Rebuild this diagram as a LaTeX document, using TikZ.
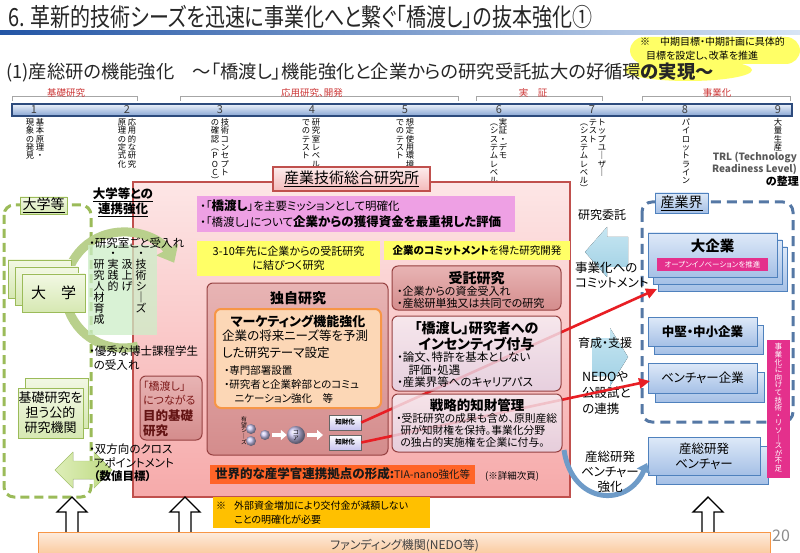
\documentclass[tikz,border=0pt]{standalone}
\usepackage{fontspec}
\setmainfont[RawFeature=+palt]{Noto Sans CJK JP}
\newfontfamily\condjp[FakeStretch=0.8,RawFeature=+palt]{Noto Sans CJK JP}
\usetikzlibrary{arrows.meta,calc}
\definecolor{pinkB}{RGB}{192,80,77}
\definecolor{pinkT}{RGB}{253,230,230}
\definecolor{pinkBot}{RGB}{246,170,170}
\definecolor{roseD}{RGB}{150,65,65}
\definecolor{roseT}{RGB}{232,180,180}
\definecolor{roseB}{RGB}{212,140,140}
\definecolor{lavT}{RGB}{246,238,244}
\definecolor{lavB}{RGB}{226,212,230}
\definecolor{greenD}{RGB}{155,187,89}
\definecolor{greenT}{RGB}{242,248,228}
\definecolor{greenB}{RGB}{214,232,178}
\definecolor{blueD}{RGB}{79,129,189}
\definecolor{blueT}{RGB}{222,233,248}
\definecolor{blueB}{RGB}{165,192,230}
\definecolor{dashB}{RGB}{85,120,165}
\definecolor{ltbA}{RGB}{198,230,242}
\definecolor{ltbB}{RGB}{160,208,228}
\definecolor{magL}{RGB}{238,160,228}
\definecolor{yel}{RGB}{255,255,102}
\definecolor{hotpink}{RGB}{228,48,140}
\definecolor{orgR}{RGB}{255,100,40}
\definecolor{amber}{RGB}{255,192,0}
\definecolor{orgD}{RGB}{247,150,70}
\definecolor{orgL}{RGB}{252,215,182}
\definecolor{redA}{RGB}{232,30,36}
\definecolor{maroon}{RGB}{125,25,25}
\definecolor{lbl}{RGB}{205,55,55}
\definecolor{navy}{RGB}{45,75,125}
\definecolor{seedc}{RGB}{200,195,238}
\makeatletter
\newcommand\vcol[1]{\vtop{\offinterlineskip\vcol@loop#1\relax}}
\def\vcol@loop#1{\ifx\relax#1\else\hbox to 1em{\vrule height .88em depth .12em width 0pt\hss#1\hss}\expandafter\vcol@loop\fi}
\makeatother
\newcommand\fs[2]{\fontsize{#1}{#2}\selectfont}
\begin{document}
\begin{tikzpicture}[x=1pt,y=-1pt,
  every node/.style={inner sep=0pt},
  vt/.style={anchor=north, font={\fs{8.3}{9}}},
  vtl/.style={anchor=north, font={\fs{11}{12}}},
  brk/.style={draw=gray!70, line width=.8},
  brklbl/.style={text=lbl, font={\fs{9.5}{10}}},
  gbox/.style={draw=greenD, line width=.8, top color=greenT, bottom color=greenB},
  bbox/.style={draw=blueD, line width=.8, top color=blueT, bottom color=blueB},
  rosebox/.style={draw=roseD, line width=1, top color=roseT, bottom color=roseB, rounded corners=6},
  lavbox/.style={draw=roseD, line width=1, top color=lavT, bottom color=lavB, rounded corners=6, fill opacity=.8},
  seed/.style={circle, minimum size=10, shading=ball, ball color=seedc},
  chz/.style={draw=black!60, line width=.6, top color=white, bottom color=seedc, minimum width=32, minimum height=15, font={\bfseries\fs{6.5}{7}}},
  redarr/.style={draw=redA, line width=2.6, -{Triangle[length=11pt,width=10pt]}},
  uparr/.pic={\draw[fill=white, line width=1.4, line join=miter] (-6,38) -- (-6,15) -- (-15,15) -- (0,0) -- (15,15) -- (6,15) -- (6,38) -- cycle;}
]
\useasboundingbox (0,0) rectangle (800,553);
\fill[white] (0,0) rectangle (800,553);

% ---------- title ----------
\node[anchor=base west, text=black!85] (title) at (8,27) {\condjp\fs{25}{27}6. 革新的技術シーズを迅速に事業化へと繋ぐ「橋渡し」の抜本強化①};
\fill[left color={rgb,255:red,35;green,85;blue,165}, right color={rgb,255:red,215;green,228;blue,245}] (0,31) rectangle (800,35);
\fill[yel, rounded corners=14] (630,37) rectangle (800,64);
\fill[yel] (688,70) ellipse[x radius=64, y radius=11];
\node[anchor=north west, align=left, font={\fs{10}{13.5}}] (note) at (640,37) {※　中期目標・中期計画に具体的\\\hspace*{.6em}目標を設定し、改革を推進};
\node[anchor=base west, text=black!85] (sub) at (6,79) {\fs{18.3}{20}(1)産総研の機能強化　～「橋渡し」機能強化と企業からの研究受託拡大の好循環\textbf{の実現～}};

% ---------- TRL ----------
\draw[brk] (12,101) -- (12,96) -- (137,96) -- (137,101);
\draw[brk] (180,101) -- (180,96) -- (458,96) -- (458,101);
\draw[brk] (476,101) -- (476,96) -- (602,96) -- (602,101);
\draw[brk] (642,101) -- (642,96) -- (790,96) -- (790,101);
\node[brklbl] (l1) at (66,93) {基礎研究};
\node[brklbl] (l2) at (312,93) {応用研究、開発};
\node[brklbl] (l3) at (533,93) {実　証};
\node[brklbl] (l4) at (717,93) {事業化};
\draw[draw=navy, line width=1.6, top color={rgb,255:red,236;green,242;blue,250}, bottom color={rgb,255:red,135;green,165;blue,212}] (12,104) rectangle (792,116);
\foreach \n/\x in {1/34,2/127,3/220,4/312,5/405,6/499,7/592,8/685,9/778}
  \node[text=black!75, font={\fs{11}{12}}] (n\n) at (\x,110) {\n};
\node[vt] (t1a) at (40,118) {\vcol{基本原理・}};
\node[vt] (t1b) at (30,118) {\vcol{現象の発見}};
\node[vt] (t2a) at (132,118) {\vcol{応用的な研究}};
\node[vt] (t2b) at (122,118) {\vcol{原理の定式化}};
\node[vt] (t3a) at (225,118) {\vcol{技術コンセプト}};
\node[vt] (t3b) at (215,118) {\vcol{の確認︵POC︶}};
\node[vt] (t4a) at (316,118) {\vcol{研究室レベル}};
\node[vt] (t4b) at (306,118) {\vcol{でのテスト}};
\node[vt] (t5a) at (410,118) {\vcol{想定使用環境}};
\node[vt] (t5b) at (400,118) {\vcol{でのテスト}};
\node[vt] (t6a) at (503,118) {\vcol{実証・デモ}};
\node[vt] (t6b) at (494,118) {\vcol{︵システムレベル︶}};
\node[vt] (t7a) at (602,118) {\vcol{トップユ｜ザ｜}};
\node[vt] (t7b) at (593,118) {\vcol{テスト}};
\node[vt] (t7c) at (584,118) {\vcol{︵システムレベル︶}};
\node[vt] (t8a) at (686,118) {\vcol{パイロットライン}};
\node[vt] (t9a) at (778,118) {\vcol{大量生産}};
\node[anchor=north east, align=right, font={\bfseries\fs{10}{10.5}}, text=black!65] (trl) at (797,152) {TRL (Technology\\Readiness Level)};
\node[anchor=north east, font={\bfseries\fs{11}{12}}] (seiri) at (799,176) {の整理};

% ---------- AIST big box ----------
\draw[draw=pinkB, line width=1.2, top color=pinkT, bottom color=pinkBot] (133,182) rectangle (570,497);
\node[draw=pinkB, line width=1.2, top color={rgb,255:red,253;green,236;blue,236}, bottom color={rgb,255:red,244;green,185;blue,185}, minimum width=157, minimum height=24, font={\fs{15}{16}}] (aist) at (351.5,179) {\underline{産業技術総合研究所}};

% ---------- left: universities ----------
\draw[draw=greenD, line width=3, dash pattern=on 9pt off 5pt, rounded corners=10] (4,205) rectangle (91,497);
\node[gbox, minimum width=47, minimum height=17, font={\fs{14}{15}}] (daigakuT) at (43.5,205.5) {\underline{大学等}};
\draw[draw={rgb,255:red,185;green,208;blue,140}, line width=9, -{Triangle[length=15pt,width=24pt]}] ($(123,290)+(75:58)$) arc[start angle=75, end angle=332, radius=58];
\draw[gbox] (8,260) rectangle (71,298);
\draw[gbox] (15,267) rectangle (78,305);
\node[gbox, minimum width=63, minimum height=38, font={\fs{15}{16}}] (daigaku) at (53.5,293) {大　学};
\draw[gbox] (25,378) rectangle (88,428);
\node[gbox, minimum width=65, minimum height=50, align=center, font={\fs{13}{15}}] (kiso) at (50.5,413) {基礎研究を\\担う公的\\研究機関};
\fill[fill={rgb,255:red,205;green,238;blue,200}, opacity=.75] (88,245) rectangle (157,335);
\node[vtl] (v1) at (141,248) {\vcol{・技術シ｜ズ}};
\node[vtl] (v2) at (127,259) {\vcol{汲上げ}};
\node[vtl] (v3) at (113,248) {\vcol{・実践的}};
\node[vtl] (v4) at (99,259) {\vcol{研究人材育成}};
\node[align=center, font={\bfseries\fs{12.5}{13.5}}] (renkei) at (123,202) {\underline{大学等との}\\\underline{連携強化}};
\node[anchor=west, font={\fs{11.5}{13}}] (uke) at (89,243) {・研究室ごと受入れ};
\node[anchor=north west, align=left, font={\fs{11.5}{13.5}}] (hakase) at (89,346) {・優秀な博士課程学生\\\hspace*{.4em}の受入れ};
\fill[left color={rgb,255:red,222;green,238;blue,185}, right color={rgb,255:red,190;green,218;blue,130}, draw={rgb,255:red,175;green,205;blue,120}] (55,470) -- (73,452) -- (73,461) -- (94,461) -- (94,452) -- (112,470) -- (94,488) -- (94,479) -- (73,479) -- (73,488) -- cycle;
\node[anchor=north west, align=left, font={\fs{11.5}{13.5}}] (cross) at (89,444) {・双方向のクロス\\\hspace*{.4em}アポイントメント\\\hspace*{.4em}\textbf{（数値目標）}};

% ---------- right: industry ----------
\draw[draw=dashB, line width=3, dash pattern=on 10pt off 6pt, rounded corners=10] (642,202) rectangle (793,422);
\node[bbox, minimum width=53, minimum height=20, font={\fs{14}{15}}] (sangyoT) at (681.5,203) {\underline{産業界}};
\draw[bbox] (658,247) rectangle (787,291);
\draw[bbox] (653,240) rectangle (782,284);
\node[bbox, minimum width=129, minimum height=44] (dai) at (712.5,255) {};
\node[font={\bfseries\fs{14.5}{15}}] (daiT) at (712.5,246) {大企業};
\node[fill=hotpink, minimum width=111, minimum height=13, text=white, font={\fs{7.5}{8}}] (open) at (712.5,264.5) {オープンイノベーションを推進};
\draw[bbox] (654,325) rectangle (763,354);
\node[bbox, minimum width=109, minimum height=29, font={\bfseries\fs{12.5}{13}}] (chuken) at (702.5,331.5) {中堅・中小企業};
\draw[bbox] (655,372) rectangle (764,402);
\node[bbox, minimum width=109, minimum height=30, font={\fs{12.5}{13}}] (venture) at (702.5,378) {ベンチャー企業};
\draw[bbox] (656,446) rectangle (768,484);
\node[bbox, minimum width=112, minimum height=38, align=center, font={\fs{12.5}{15}}] (aistv) at (704,456) {産総研発\\ベンチャー};
\node[fill=hotpink, minimum width=23, minimum height=138, anchor=north west] (fusoku) at (767,340) {};
\node[anchor=north, text=white, font={\fs{7.6}{8}}] (fusokuT) at (778.5,343) {\vcol{事業化に向けて技術・リソ｜スが不足}};
\fill[top color=ltbA, bottom color=ltbB] (585,252) -- (607,227) -- (607,237) -- (628,237) -- (628,267) -- (607,267) -- (607,277) -- cycle;
\fill[top color=ltbA, bottom color=ltbB] (628,357) -- (610,328) -- (610,338) -- (592,338) -- (592,376) -- (610,376) -- (610,386) -- cycle;
\node[font={\fs{12}{13}}] (itaku) at (602,215) {研究委託};
\node[anchor=north west, align=left, font={\fs{12.5}{14.5}}] (commit) at (575,262) {事業化への\\コミットメント};
\node[anchor=west, font={\fs{12}{13}}] (ikusei) at (578,343) {育成・支援};
\node[anchor=north west, align=left, font={\fs{12.5}{16}}] (nedo) at (582,371) {NEDOや\\公設試と\\の連携};
\coordinate (cv0) at (564,450);
\coordinate (cv1) at (647,463);
\draw[draw={rgb,255:red,110;green,155;blue,200}, line width=5, -{Triangle[length=9pt,width=14pt]}] (cv0) .. controls (572,505) and (628,508) .. (cv1);
\node[align=center, font={\fs{12.5}{15}}] (aistvT) at (610,472) {産総研発\\ベンチャー\\強化};

% ---------- center contents ----------
\node[fill=magL, anchor=north west, minimum width=318, minimum height=36, text width=312, inner xsep=3, align=left, font={\fs{11.5}{16}}] (mission) at (197,196) {・「{\bfseries\fs{12.5}{16}橋渡し}」を主要ミッションとして明確化\\・「橋渡し」について{\bfseries\fs{12.5}{16}企業からの獲得資金を最重視した評価}};
\node[fill=yel, minimum width=183, minimum height=35, align=center, font={\fs{11}{14}}] (y1) at (288.5,258.5) {3-10年先に企業からの受託研究\\に結びつく研究};
\node[fill=yel, minimum width=186, minimum height=19, font={\fs{10.5}{12}}] (y2) at (477,250.5) {\textbf{企業のコミットメント}を得た研究開発};
\draw[rosebox] (140,376) rectangle (202,440);
\node[anchor=north west, align=left, text=maroon, font={\fs{11}{14}}] (mk1) at (143,381) {「橋渡し」\\につながる};
\node[anchor=north west, align=left, text=maroon!80!black, font={\bfseries\fs{12.5}{15}}] (mk2) at (143,410) {目的基礎\\研究};
\draw[rosebox] (207,283) rectangle (388,455);
\node[font={\bfseries\fs{14}{15}}] (dokuji) at (298,298) {独自研究};
\draw[draw=orgD, line width=2, fill=orgL, rounded corners=6] (215,309) rectangle (381,408);
\node[font={\bfseries\fs{13}{14}}] (mkt) at (298,321) {マーケティング機能強化};
\node[anchor=north west, align=left, font={\fs{12.5}{16.5}}] (mkt2) at (222,330) {企業の将来ニーズ等を予測\\した研究テーマ設定};
\node[anchor=north west, align=left, font={\fs{10.5}{14}}] (mkt3) at (224,365) {・専門部署設置\\・研究者と企業幹部とのコミュ\\\hspace*{1em}ニケーション強化　等};
\node[anchor=north, font={\fs{5.8}{6}}] (yubo) at (244,416) {\vcol{有望シ｜ズ}};
\node[seed] (s1) at (251,429) {};
\node[seed] (s2) at (251,441) {};
\node[seed] (s3) at (265,435) {};
\node[seed, minimum size=18, font={\fs{6}{6}}] (core) at (296,435) {\vcol{コア}};
\node[chz] (chizai1) at (345,422.5) {知財化};
\node[chz] (chizai2) at (345,442.5) {知財化};
\coordinate (ar2) at (323,435);
\draw[white, line width=4, -{Triangle[length=6pt,width=10pt]}] (s3.east) ++(2,0) -- (core.west);
\draw[white, line width=4, -{Triangle[length=6pt,width=10pt]}] (core.east) ++(2,0) -- (ar2);
\draw[rosebox] (392,266) rectangle (561,310);
\coordinate (dkTip) at (657,289);
\coordinate (vnTip) at (650,381);
\draw[redarr] (chizai1.east) -- (dkTip);
\draw[redarr] (chizai2.east) -- (vnTip);
\draw[lavbox] (392,316) rectangle (561,391);
\draw[lavbox] (392,394) rectangle (562,452);
\node[font={\bfseries\fs{14}{15}}] (jutaku) at (476.5,278) {受託研究};
\node[anchor=north west, align=left, font={\fs{11}{12.5}}] (jutaku2) at (397,286) {・企業からの資金受入れ\\・産総研単独又は共同での研究};
\node[align=center, font={\bfseries\fs{14}{16}}] (incent) at (476.5,336) {「橋渡し」研究者への\\インセンティブ付与};
\node[anchor=north west, align=left, font={\fs{11.5}{12.5}}] (incent2) at (397,352) {・論文、特許を基本としない\\\hspace*{1em}評価・処遇\\・産業界等へのキャリアパス};
\node[font={\bfseries\fs{13.5}{14}}] (senryaku) at (477,405) {戦略的知財管理};
\node[anchor=north west, align=left, font={\fs{10.8}{12}}] (senryaku2) at (396,413) {・受託研究の成果も含め、原則産総\\\hspace*{.4em}研が知財権を保持。事業化分野\\\hspace*{.4em}の独占的実施権を企業に付与。};
\node[fill=orgR, anchor=west, minimum width=265, minimum height=19, text=black!90] (tia) at (210,474) {{\bfseries\fs{12.5}{14}世界的な産学官連携拠点の形成:}{\fs{10.5}{14}TIA-nano強化等}};
\node[font={\fs{9.5}{10}}] (shosai) at (512,476) {(※詳細次頁)};

% ---------- bottom ----------
\node[fill=amber, anchor=north west, minimum width=217, minimum height=31, text width=211, inner xsep=3, align=left, font={\fs{10}{14}}] (gaibu) at (213,497) {※\hspace{.8em}外部資金増加により交付金が減額しない\\\hspace*{1.8em}ことの明確化が必要};
\pic at (72,497) {uparr};
\pic at (185,497) {uparr};
\pic at (708,497) {uparr};
\node[draw=orgD, line width=1, top color={rgb,255:red,253;green,235;blue,220}, bottom color={rgb,255:red,250;green,195;blue,145}, minimum width=732, minimum height=26, anchor=north west, font={\fs{12}{14}}, text=black!75] (fund) at (38,532) {ファンディング機関(NEDO等)};
\node[text=black!45, font={\fs{16}{18}}] (pg) at (781,536) {20};
\end{tikzpicture}
\end{document}
